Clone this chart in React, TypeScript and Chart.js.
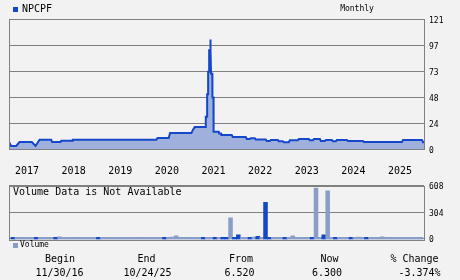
import React, { useEffect, useRef } from "react";
import { Chart, registerables } from "chart.js";

Chart.register(...registerables);

// ---------- data ----------
const symbol = "NPCPF";
const beginDate = "11/30/16";
const endDate = "10/24/25";
const fromPrice = "6.520";
const nowPrice = "6.300";
const pctChange = "-3.374%";

const rangeStart = 2016.915; // 11/30/16
const rangeEnd = 2025.816; // 10/24/25

const yearTicks = [2017, 2018, 2019, 2020, 2021, 2022, 2023, 2024, 2025];
const priceTicks = [0, 24.2, 48.4, 72.6, 96.8, 121];
const volumeTicks = [0, 304, 608];

// price (fractional year, value)
const priceDates = [
  2016.915, 2016.962, 2017.07, 2017.14, 2017.405, 2017.484, 2017.57, 2017.821, 2017.84, 2018.021,
  2018.036, 2018.272, 2018.285, 2020.076, 2020.1, 2020.34, 2020.37, 2020.827, 2020.862, 2020.898,
  2021.134, 2021.136, 2021.163, 2021.165, 2021.184, 2021.186, 2021.206, 2021.208, 2021.229, 2021.231,
  2021.233, 2021.247, 2021.249, 2021.276, 2021.278, 2021.301, 2021.303, 2021.414, 2021.42, 2021.463,
  2021.47, 2021.693, 2021.714, 2021.993, 2022.015, 2022.079, 2022.101, 2022.187, 2022.208, 2022.423,
  2022.444, 2022.509, 2022.53, 2022.681, 2022.702, 2022.788, 2022.809, 2022.917, 2022.938, 2023.11,
  2023.131, 2023.346, 2023.368, 2023.432, 2023.454, 2023.583, 2023.604, 2023.69, 2023.712, 2023.84,
  2023.862, 2023.926, 2023.947, 2024.162, 2024.184, 2024.506, 2024.527, 2025.343, 2025.365, 2025.773,
  2025.794, 2025.816,
];
const priceValues = [
  6.52, 2.8, 2.8, 6.5, 6.5, 2.8, 8.6, 8.6, 6.5, 6.5,
  7.7, 7.7, 8.6, 8.6, 10.2, 10.2, 14.8, 14.8, 18.0, 20.4,
  20.4, 30, 30, 51, 51, 72, 72, 92, 92, 102,
  92, 92, 70, 70, 48, 48, 16.0, 16.0, 14.5, 14.5,
  13.0, 13.0, 11.2, 11.2, 9.3, 9.3, 10.0, 10.0, 8.8, 8.8,
  7.4, 7.4, 8.4, 8.4, 7.3, 7.3, 6.3, 6.3, 8.1, 8.1,
  9.3, 9.3, 8.1, 8.1, 9.3, 9.3, 7.5, 7.5, 8.4, 8.4,
  7.2, 7.2, 8.4, 8.4, 7.5, 7.5, 6.5, 6.5, 8.4, 8.4,
  6.3, 6.3,
];

// monthly volume, month ends from Dec 2016 to Sep 2025
const volumeFirstMonthEnd = 2017.0;
const volumeValues = [
  12, 12, 12, 12, 12, 12, 12, 12, 12, 12, 12, 12,
  20, 12, 12, 12, 12, 12, 12, 12, 12, 12, 12, 12,
  12, 12, 12, 12, 12, 12, 12, 12, 12, 12, 12, 12,
  12, 12, 12, 12, 12, 16, 31, 12, 12, 12, 12, 12,
  12, 12, 12, 12, 12, 12, 12, 12, 239, 12, 42, 12,
  12, 12, 15, 25, 12, 416, 12, 12, 12, 12, 12, 12,
  31, 12, 12, 12, 12, 12, 582, 12, 42, 551, 12, 12,
  12, 12, 12, 12, 12, 16, 12, 12, 12, 12, 12, 20,
  12, 12, 12, 12, 12, 12, 12, 12, 12, 12,
];
const volumeDownMonths = [0, 6, 11, 22, 39, 49, 52, 54, 55, 57, 58, 61, 63, 65, 66, 70, 77, 80, 83, 87, 91];

// ---------- style ----------
const BG = "#f2f2f2";
const LINE = "#1448c8";
const FILL = "#9fb0dc";
const VOL_LIGHT = "#8a9dc9";
const VOL_DARK = "#1448c8";
const GRID = "#808080";
const MONO = "'DejaVu Sans Mono', 'Liberation Mono', monospace";

Chart.defaults.font.family = MONO;

function framePlugin(when: "before" | "after") {
  const draw = (chart: any) => {
    const { ctx, chartArea: a } = chart;
    ctx.save();
    ctx.strokeStyle = GRID;
    ctx.lineWidth = 1;
    ctx.strokeRect(
      Math.round(a.left) + 0.5,
      Math.round(a.top) + 0.5,
      Math.round(a.right - a.left),
      Math.round(a.bottom - a.top)
    );
    ctx.restore();
  };
  return when === "before"
    ? { id: "frameBefore", beforeDatasetsDraw: draw }
    : { id: "frameAfter", afterDatasetsDraw: draw };
}

export default function App() {
  const priceRef = useRef<HTMLCanvasElement>(null);
  const volRef = useRef<HTMLCanvasElement>(null);

  useEffect(() => {
    const priceChart = new Chart(priceRef.current!, {
      type: "line",
      data: {
        datasets: [
          {
            data: priceDates.map((d, i) => ({ x: d, y: priceValues[i] })),
            borderColor: LINE,
            backgroundColor: FILL,
            borderWidth: 2,
            fill: "origin",
            pointRadius: 0,
            tension: 0,
          },
        ],
      },
      options: {
        animation: false,
        responsive: false,
        devicePixelRatio: 1,
        events: [],
        layout: { padding: { left: 9, top: 19, right: 0, bottom: 0 } },
        plugins: { legend: { display: false }, tooltip: { enabled: false } },
        scales: {
          x: {
            type: "linear",
            min: rangeStart,
            max: rangeEnd,
            offset: false,
            grid: { display: false },
            border: { display: false },
            afterBuildTicks: (s: any) => {
              s.ticks = yearTicks.map((v) => ({ value: v }));
            },
            afterFit: (s: any) => {
              s.height = 27;
            },
            ticks: {
              autoSkip: false,
              maxRotation: 0,
              align: "start",
              labelOffset: 2,
              padding: 8,
              color: "#000",
              font: { family: MONO, size: 10 },
              callback: (v: any) => String(v),
            },
          },
          y: {
            position: "right",
            min: 0,
            max: 121,
            grid: { color: GRID, drawTicks: false },
            border: { display: false },
            afterBuildTicks: (s: any) => {
              s.ticks = priceTicks.map((v) => ({ value: v }));
            },
            afterFit: (s: any) => {
              s.width = 36;
            },
            ticks: {
              padding: 5,
              labelOffset: 1.5,
              color: "#000",
              font: { family: MONO, size: 8 },
              callback: (v: any) => String(Math.round(Number(v))),
            },
          },
        },
      },
      plugins: [framePlugin("after")],
    } as any);

    const volChart = new Chart(volRef.current!, {
      type: "bar",
      data: {
        datasets: [
          {
            data: volumeValues.map((v, i) => ({ x: volumeFirstMonthEnd + i / 12, y: v })),
            backgroundColor: volumeValues.map((_, i) =>
              volumeDownMonths.includes(i) ? VOL_DARK : VOL_LIGHT
            ),
            borderWidth: 0,
            base: -12,
            categoryPercentage: 1,
            barPercentage: 1,
          },
        ],
      },
      options: {
        animation: false,
        responsive: false,
        devicePixelRatio: 1,
        events: [],
        layout: { padding: { left: 9, top: 3, right: 0, bottom: 10.5 } },
        plugins: { legend: { display: false }, tooltip: { enabled: false } },
        scales: {
          x: {
            type: "linear",
            min: rangeStart,
            max: rangeEnd,
            offset: false,
            display: false,
            grid: { offset: false },
          },
          y: {
            position: "right",
            min: -12,
            max: 608,
            grid: { color: GRID, drawTicks: false },
            border: { display: false },
            afterBuildTicks: (s: any) => {
              s.ticks = volumeTicks.map((v) => ({ value: v }));
            },
            afterFit: (s: any) => {
              s.width = 36;
            },
            ticks: {
              padding: 5,
              labelOffset: 1.5,
              color: "#000",
              font: { family: MONO, size: 8 },
              callback: (v: any) => String(v),
            },
          },
        },
      },
      plugins: [framePlugin("before")],
    } as any);

    return () => {
      priceChart.destroy();
      volChart.destroy();
    };
  }, []);

  const txt = (
    s: string,
    cx: number,
    cy: number,
    size = 10
  ): React.ReactElement => (
    <div
      key={s + cx + cy}
      style={{
        position: "absolute",
        left: cx - 60,
        top: cy - 6,
        width: 120,
        height: 12,
        lineHeight: "12px",
        textAlign: "center",
        fontFamily: MONO,
        fontSize: size,
        color: "#000",
        whiteSpace: "pre",
      }}
    >
      {s}
    </div>
  );

  return (
    <div
      style={{
        position: "fixed",
        left: 0,
        top: 0,
        width: 460,
        height: 280,
        background: BG,
        overflow: "hidden",
      }}
    >
      <canvas
        ref={priceRef}
        width={460}
        height={176}
        style={{ position: "absolute", left: 0, top: 0, width: 460, height: 176 }}
      />
      <canvas
        ref={volRef}
        width={460}
        height={74}
        style={{ position: "absolute", left: 0, top: 176, width: 460, height: 74 }}
      />
      {/* legend */}
      <div style={{ position: "absolute", left: 13, top: 7, width: 5, height: 5, background: LINE }} />
      <div
        style={{
          position: "absolute",
          left: 22,
          top: 3,
          lineHeight: "12px",
          fontFamily: MONO,
          fontSize: 10,
          color: "#000",
        }}
      >
        {symbol}
      </div>
      {txt("Monthly", 357, 9, 8)}
      <div
        style={{
          position: "absolute",
          left: 13,
          top: 186,
          lineHeight: "12px",
          fontFamily: MONO,
          fontSize: 10,
          color: "#000",
          whiteSpace: "pre",
        }}
      >
        Volume Data is Not Available
      </div>
      <div style={{ position: "absolute", left: 13, top: 243, width: 5, height: 5, background: VOL_LIGHT }} />
      <div
        style={{
          position: "absolute",
          left: 20,
          top: 240,
          lineHeight: "10px",
          fontFamily: MONO,
          fontSize: 8,
          color: "#000",
        }}
      >
        Volume
      </div>
      {txt("Begin", 60, 259)}
      {txt(beginDate, 59.5, 272.5)}
      {txt("End", 146.5, 259)}
      {txt(endDate, 147.5, 272.5)}
      {txt("From", 241, 259)}
      {txt(fromPrice, 239.5, 272.5)}
      {txt("Now", 329.5, 259)}
      {txt(nowPrice, 327, 272.5)}
      {txt("% Change", 414.5, 259)}
      {txt(pctChange, 419.5, 272.5)}
    </div>
  );
}
